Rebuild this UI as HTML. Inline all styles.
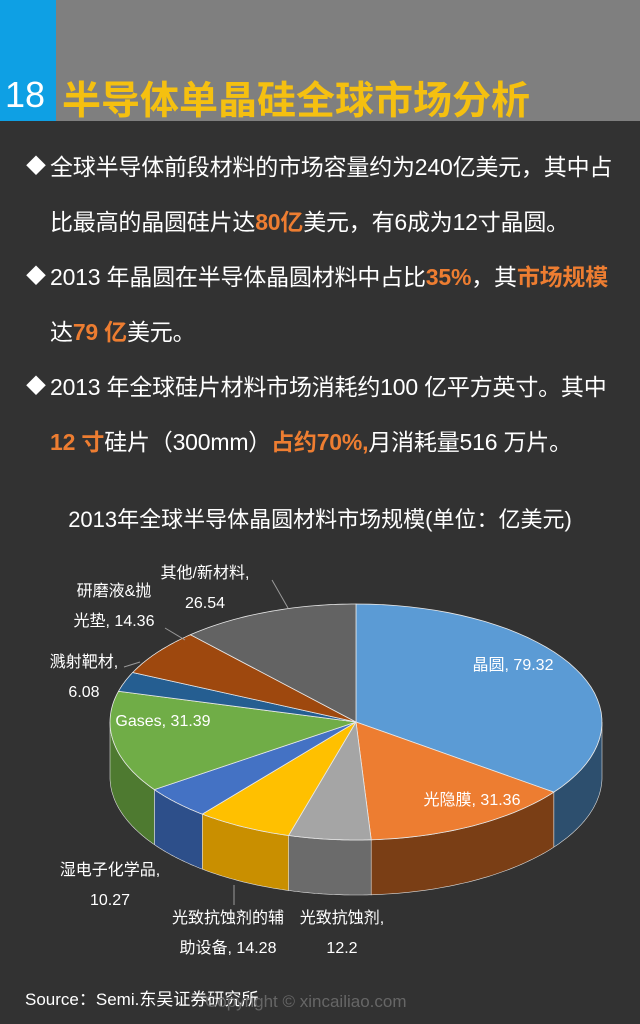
<!DOCTYPE html>
<html><head><meta charset="utf-8">
<style>
body{margin:0;width:640px;height:1024px;background:#323232;overflow:hidden;position:relative;font-family:"Liberation Sans","Noto Sans CJK SC",sans-serif;}
.hdr{position:absolute;left:0;top:0;width:640px;height:121px;background:#7f7f7f;}
.num{position:absolute;left:0;top:0;width:56px;height:121px;background:#0ea0e4;}
.num span{position:absolute;left:5px;top:74px;color:#fff;font-size:36px;}
.title{position:absolute;left:62px;top:70px;color:#f5c010;font-size:39px;font-weight:bold;letter-spacing:0;}
.line{position:absolute;left:50px;color:#fff;font-size:23px;white-space:nowrap;letter-spacing:-0.2px;}
.bul{position:absolute;left:26px;color:#fff;font-size:20px;}
.o{color:#ed7d31;font-weight:bold;}
.ct{position:absolute;left:0;width:640px;top:502px;text-align:center;color:#fff;font-size:22px;}
.src{position:absolute;left:25px;top:985px;color:#fff;font-size:17px;}
.cp{position:absolute;left:205px;top:992px;color:#666;font-size:17px;}
svg text{font-family:"Liberation Sans","Noto Sans CJK SC",sans-serif;font-size:16px;fill:#fff;}
</style></head><body>
<div class="hdr"></div>
<div class="num"><span>18</span></div>
<div class="title">半导体单晶硅全球市场分析</div>
<div class="bul" style="top:150px">◆</div>
<div class="line" style="top:148px">全球半导体前段材料的市场容量约为240亿美元，其中占</div>
<div class="line" style="top:203px">比最高的晶圆硅片达<span class="o">80亿</span>美元，有6成为12寸晶圆。</div>
<div class="bul" style="top:260px">◆</div>
<div class="line" style="top:258px">2013 年晶圆在半导体晶圆材料中占比<span class="o">35%</span>，其<span class="o">市场规模</span></div>
<div class="line" style="top:313px">达<span class="o">79 亿</span>美元。</div>
<div class="bul" style="top:370px">◆</div>
<div class="line" style="top:368px">2013 年全球硅片材料市场消耗约100 亿平方英寸。其中</div>
<div class="line" style="top:423px"><span class="o">12 寸</span>硅片（300mm）<span class="o">占约70%,</span>月消耗量516 万片。</div>
<div class="ct">2013年全球半导体晶圆材料市场规模(单位：亿美元)</div>
<svg id="pie" width="640" height="1024" style="position:absolute;left:0;top:0"></svg>
<div class="src">Source：Semi.东吴证券研究所</div>
<div class="cp">Copyright © xincailiao.com</div>
<script>
const categories=["晶圆","光隐膜","光致抗蚀剂","光致抗蚀剂的辅助设备","湿电子化学品","Gases","溅射靶材","研磨液&抛光垫","其他/新材料"];
const values=[79.32,31.36,12.2,14.28,10.27,31.39,6.08,14.36,26.54];
const topColors=["#5b9bd5","#ed7d31","#a5a5a5","#ffc000","#4472c4","#70ad47","#255e91","#9e480e","#636363"];
const sideColors=["#2d4f6e","#7a3e15","#6b6b6b","#c98f00","#2d4f8a","#4e7a30","#1a4268","#6a300a","#444"];
const labels=[
 {lines:["晶圆, 79.32"],x:513,y:670,anchor:"middle"},
 {lines:["光隐膜, 31.36"],x:472,y:805,anchor:"middle"},
 {lines:["光致抗蚀剂,","12.2"],x:342,y:923,anchor:"middle"},
 {lines:["光致抗蚀剂的辅","助设备, 14.28"],x:228,y:923,anchor:"middle"},
 {lines:["湿电子化学品,","10.27"],x:110,y:875,anchor:"middle"},
 {lines:["Gases, 31.39"],x:163,y:726,anchor:"middle"},
 {lines:["溅射靶材,","6.08"],x:84,y:667,anchor:"middle"},
 {lines:["研磨液&抛","光垫, 14.36"],x:114,y:596,anchor:"middle"},
 {lines:["其他/新材料,","26.54"],x:205,y:578,anchor:"middle"}
];
const svg=document.getElementById('pie');
const NS="http://www.w3.org/2000/svg";
const cx=356,cy=722,rx=246,ry=118,depth=55;
const total=values.reduce((a,b)=>a+b,0);
function pt(t,dy){return [cx+rx*Math.sin(t),cy-ry*Math.cos(t)+(dy||0)];}
function arc(a,b,dy){let s="";const n=40;for(let i=0;i<=n;i++){const t=a+(b-a)*i/n;const p=pt(t,dy);s+=(i?"L":"")+p[0].toFixed(1)+","+p[1].toFixed(1)+" ";}return s;}
let angs=[];let acc=0;
values.forEach(v=>{const a=acc/total*2*Math.PI;acc+=v;angs.push([a,acc/total*2*Math.PI]);});
angs.forEach((r,i)=>{
 const a=Math.max(r[0],Math.PI/2),b=Math.min(r[1],3*Math.PI/2);
 if(b<=a)return;
 const p=document.createElementNS(NS,'path');
 let back="";const n=40;for(let k=n;k>=0;k--){const t=a+(b-a)*k/n;const q=pt(t,depth);back+="L"+q[0].toFixed(1)+","+q[1].toFixed(1)+" ";}
 p.setAttribute('d',"M"+arc(a,b,0)+back+"Z");
 p.setAttribute('fill',sideColors[i]);p.setAttribute('stroke','#ddd');p.setAttribute('stroke-width','0.6');
 
 
 svg.appendChild(p);
});
angs.forEach((r,i)=>{
 const p=document.createElementNS(NS,'path');
 p.setAttribute('d',"M"+cx+","+cy+" L"+arc(r[0],r[1],0)+"Z");
 p.setAttribute('fill',topColors[i]);p.setAttribute('stroke','#e8e8e8');p.setAttribute('stroke-width','0.8');
 
 
 svg.appendChild(p);
});
[[ [272,580],[288,608] ],[ [165,628],[185,640] ],[ [124,667],[140,662] ],[ [234,885],[234,905] ]].forEach((l,i)=>{
 const ln=document.createElementNS(NS,'line');
 ln.setAttribute('x1',l[0][0]);ln.setAttribute('y1',l[0][1]);ln.setAttribute('x2',l[1][0]);ln.setAttribute('y2',l[1][1]);
 ln.setAttribute('stroke','#999');ln.setAttribute('stroke-width','1');
 
 
 svg.appendChild(ln);
});
labels.forEach((L,i)=>{
 L.lines.forEach((s,j)=>{
  const t=document.createElementNS(NS,'text');
  t.setAttribute('x',L.x);t.setAttribute('y',L.y+j*30);t.setAttribute('text-anchor',L.anchor);
  t.textContent=s;
  
  
  svg.appendChild(t);
 });
});
</script>
</body></html>
